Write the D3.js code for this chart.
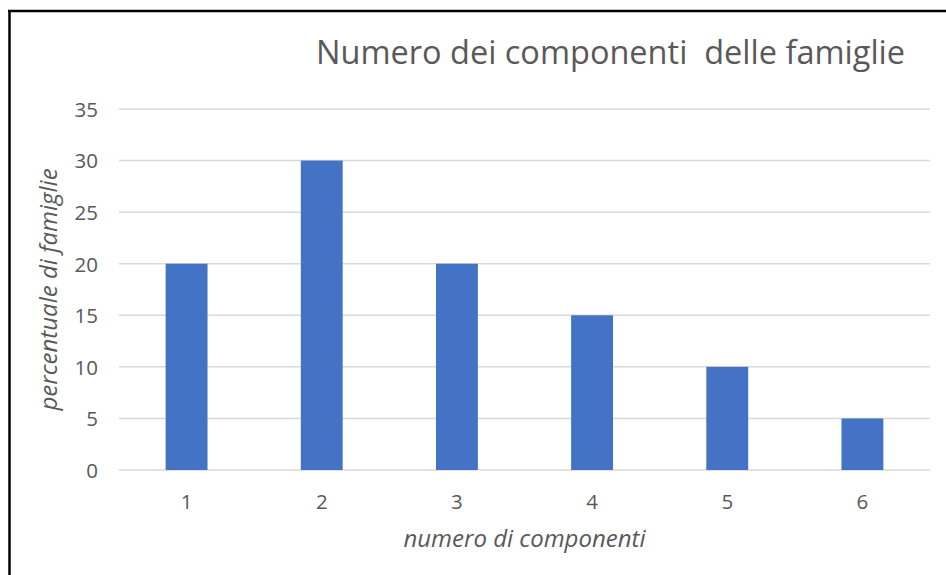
<!DOCTYPE html>
<html lang="it">
<head>
  <meta charset="UTF-8">
  <title>Numero dei componenti delle famiglie</title>
  <style>
    body { margin: 0; padding: 0; background: #fff; }
    svg { display: block; font-family: "Open Sans", sans-serif; }
    .tick text { fill: #595959; font-size: 20.5px; font-family: "Open Sans", sans-serif; }
    .grid line { stroke: #d9d9d9; stroke-width: 1.5; }
  </style>
</head>
<body>
  <script src="https://d3js.org/d3.v7.min.js"></script>
  <script>
    // data
    const categories = ['1', '2', '3', '4', '5', '6'];
    const values = [20, 30, 20, 15, 10, 5];
    const yTicks = [0, 5, 10, 15, 20, 25, 30, 35];

    const width = 946, height = 575;
    const margin = { top: 109, right: 16, bottom: 105, left: 119 };

    const svg = d3.select('body').append('svg')
      .attr('width', width)
      .attr('height', height);

    // frame (left + top only, like the screenshot)
    svg.append('line').attr('x1', 9.5).attr('x2', 9.5).attr('y1', 10).attr('y2', height)
      .attr('stroke', '#000').attr('stroke-width', 2.5);
    svg.append('line').attr('x1', 8).attr('x2', width).attr('y1', 11).attr('y2', 11)
      .attr('stroke', '#000').attr('stroke-width', 2.5);

    const x = d3.scaleBand()
      .domain(categories)
      .range([margin.left, width - margin.right])
      .paddingInner(0.69)
      .paddingOuter(0.345);

    const y = d3.scaleLinear()
      .domain([0, 35])
      .range([height - margin.bottom, margin.top]);

    // gridlines
    svg.append('g')
      .attr('class', 'grid')
      .selectAll('line')
      .data(yTicks)
      .enter().append('line')
        .attr('x1', margin.left)
        .attr('x2', width - margin.right)
        .attr('y1', d => y(d))
        .attr('y2', d => y(d));

    // y axis labels
    const yAxis = svg.append('g')
      .attr('transform', `translate(${margin.left - 21},0)`)
      .call(d3.axisLeft(y).tickValues(yTicks).tickSize(0).tickPadding(0));
    yAxis.select('.domain').remove();
    yAxis.attr('font-family', null).attr('font-size', null);
    yAxis.selectAll('text').attr('dy', '0.36em');

    // bars
    svg.append('g')
      .selectAll('rect')
      .data(values)
      .enter().append('rect')
        .attr('x', (d, i) => x(categories[i]))
        .attr('y', d => y(d))
        .attr('width', x.bandwidth())
        .attr('height', d => y(0) - y(d))
        .attr('fill', '#4472c4');

    // x axis labels
    const xAxis = svg.append('g')
      .attr('transform', `translate(0,${height - margin.bottom + 24})`)
      .call(d3.axisBottom(x).tickSize(0).tickPadding(0));
    xAxis.select('.domain').remove();
    xAxis.attr('font-family', null).attr('font-size', null);
    xAxis.selectAll('text').attr('dy', '0.71em');

    // title
    svg.append('text')
      .attr('x', 316)
      .attr('y', 64)
      .attr('fill', '#595959')
      .style('font-size', '32.5px')
      .style('white-space', 'pre')
      .text('Numero dei componenti  delle famiglie');

    // axis titles
    svg.append('text')
      .attr('x', (margin.left + width - margin.right) / 2)
      .attr('y', 547)
      .attr('text-anchor', 'middle')
      .attr('fill', '#595959')
      .style('font-size', '24px')
      .style('font-style', 'italic')
      .text('numero di componenti');

    svg.append('text')
      .attr('transform', `translate(57,${(margin.top + height - margin.bottom) / 2}) rotate(-90)`)
      .attr('text-anchor', 'middle')
      .attr('fill', '#595959')
      .style('font-size', '24px')
      .style('font-style', 'italic')
      .text('percentuale di famiglie');
  </script>
</body>
</html>
